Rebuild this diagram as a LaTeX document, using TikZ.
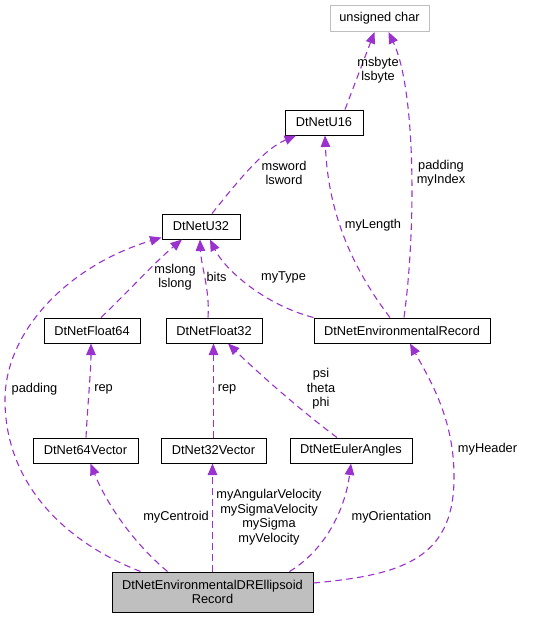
\documentclass[tikz,border=0pt]{standalone}
\usepackage{fontspec}
\setmainfont{Liberation Sans}
\usetikzlibrary{arrows.meta}
\definecolor{edgecol}{HTML}{9A32CD}
\definecolor{mainfill}{HTML}{BFBFBF}
\definecolor{extborder}{HTML}{BFBFBF}
\begin{document}
\begin{tikzpicture}[x=1pt,y=-1pt,
  txt/.style={font=\fontsize{12.8}{14.5}\selectfont},
  cls/.style={txt,draw=black,line width=1pt,fill=white,inner sep=0pt,minimum height=25pt},
  ext/.style={cls,draw=extborder},
  edge/.style={draw=edgecol,line width=1.1pt,dash pattern=on 6.5pt off 4.5pt,-{Triangle[length=11.5pt,width=9.5pt,fill=edgecol]}},
  lbl/.style={txt,align=center,inner sep=0pt}]
\useasboundingbox (0,0) rectangle (544,619);
% nodes
\node[ext,minimum width=99pt,minimum height=26pt] (uc) at (379.5,18.5) {unsigned char};
\node[cls,minimum width=78pt] (u16) at (324,122.5) {DtNetU16};
\node[cls,minimum width=78pt] (u32) at (201,226.5) {DtNetU32};
\node[cls,minimum width=96pt] (f64) at (92,330.5) {DtNetFloat64};
\node[cls,minimum width=96pt] (f32) at (214,330.5) {DtNetFloat32};
\node[cls,minimum width=176pt] (env) at (402,330.5) {DtNetEnvironmentalRecord};
\node[cls,minimum width=105pt] (v64) at (85.5,450.5) {DtNet64Vector};
\node[cls,minimum width=105pt] (v32) at (213.5,450.5) {DtNet32Vector};
\node[cls,minimum width=122pt] (eul) at (351,450.5) {DtNetEulerAngles};
\node[cls,fill=mainfill,minimum width=201pt,minimum height=40pt,align=center] (main) at (212.5,592) {DtNetEnvironmentalDREllipsoid\\Record};
% edges
\draw[edge] ([xshift=21pt]u16.north) -- ([xshift=-5pt]uc.south);
\draw[edge] ([xshift=2pt]env.north) .. controls (416,230) and (416,90) .. ([xshift=9pt]uc.south);
\draw[edge] ([xshift=11pt]u32.north) .. controls (235,185) and (262,150) .. ([xshift=-28pt]u16.south);
\draw[edge] ([xshift=-12pt]env.north) .. controls (350,265) and (328,210) .. ([xshift=1pt]u16.south);
\draw[edge] ([xshift=9pt]f64.north) .. controls (125,295) and (155,262) .. ([xshift=-19pt]u32.south);
\draw[edge] ([xshift=-6pt]f32.north) .. controls (210,290) and (201,265) .. ([xshift=-1pt]u32.south);
\draw[edge] (env.north west) .. controls (265,305) and (225,270) .. ([xshift=9pt]u32.south);
\draw[edge] ([xshift=-72pt]main.north) .. controls (60,540) and (5,480) .. (5,400) .. controls (5,330) and (70,265) .. ([yshift=2pt]u32.south west);
\draw[edge] ([xshift=0.5pt]v64.north) .. controls (88,400) and (91,370) .. ([xshift=-1pt]f64.south);
\draw[edge] (v32.north) -- ([xshift=-0.5pt]f32.south);
\draw[edge] ([xshift=-14pt]eul.north) .. controls (300,410) and (255,370) .. ([xshift=14pt]f32.south);
\draw[edge] ([xshift=-45pt]main.north) .. controls (130,540) and (105,500) .. ([xshift=5pt]v64.south);
\draw[edge] (main.north) -- ([xshift=-1pt]v32.south);
\draw[edge] ([xshift=77pt]main.north) .. controls (325,550) and (345,510) .. (eul.south);
\draw[edge] ([yshift=9pt]main.east) .. controls (400,575) and (453,560) .. (454,480) .. controls (455,420) and (430,380) .. ([xshift=8pt]env.south);
% labels
\node[lbl] (l1) at (378,70) {msbyte\\lsbyte};
\node[lbl] (l2) at (441,173) {padding\\myIndex};
\node[lbl] (l3) at (284,173) {msword\\lsword};
\node[lbl] (l4) at (373,225) {myLength};
\node[lbl] (l5) at (175,277) {mslong\\lslong};
\node[lbl] (l6) at (216.5,277) {bits};
\node[lbl] (l7) at (283.5,277) {myType};
\node[lbl] (l8) at (34.5,389) {padding};
\node[lbl] (l9) at (103.5,389) {rep};
\node[lbl] (l10) at (227,389) {rep};
\node[lbl] (l11) at (321,389) {psi\\theta\\phi};
\node[lbl] (l12) at (176,517) {myCentroid};
\node[lbl] (l13) at (269,517) {myAngularVelocity\\mySigmaVelocity\\mySigma\\myVelocity};
\node[lbl] (l14) at (391.5,517) {myOrientation};
\node[lbl] (l15) at (487.5,449) {myHeader};
\end{tikzpicture}
\end{document}
